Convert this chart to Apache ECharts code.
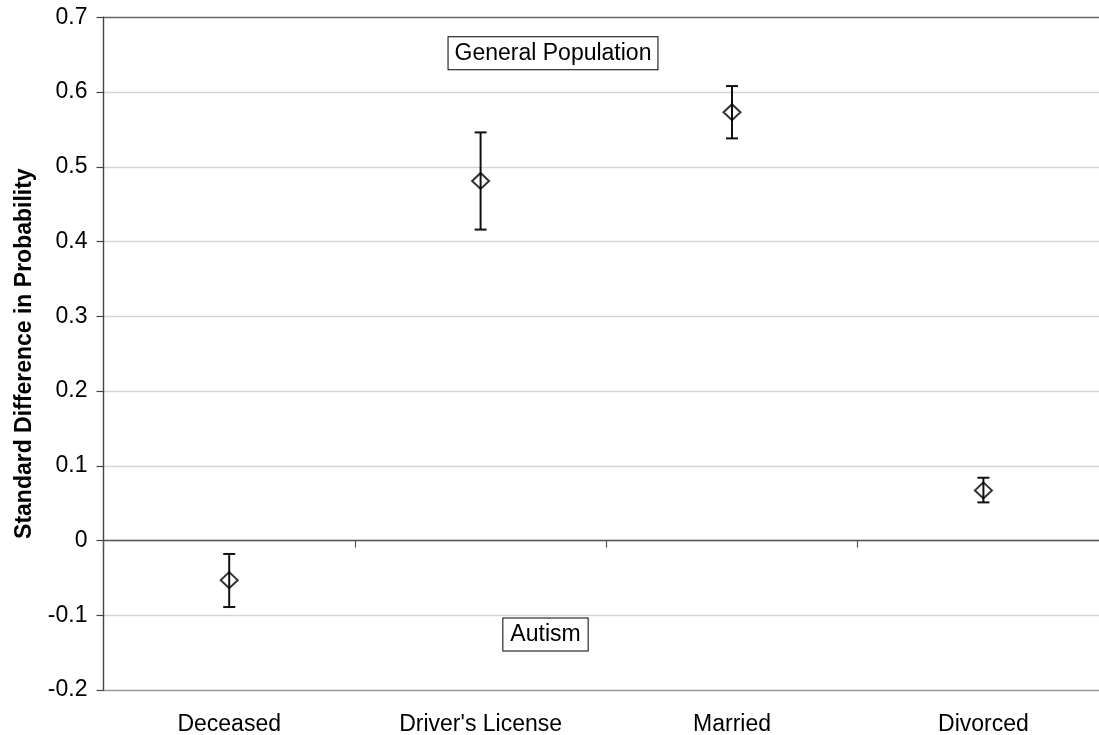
<!DOCTYPE html>
<html>
<head>
<meta charset="utf-8">
<script src="https://cdn.jsdelivr.net/npm/echarts@6/dist/echarts.min.js"></script>
<style>
html,body{margin:0;padding:0;background:#fff;overflow:hidden;}
#chart{width:1099px;height:735px;}
</style>
</head>
<body>
<div id="chart"></div>
<script>
var categories = ["Deceased", "Driver's License", "Married", "Divorced"];
var estimates = [-0.053, 0.481, 0.573, 0.067];
var lowerBounds = [-0.089, 0.416, 0.538, 0.051];
var upperBounds = [-0.018, 0.546, 0.608, 0.084];
var yTicks = [-0.2, -0.1, 0, 0.1, 0.2, 0.3, 0.4, 0.5, 0.6, 0.7];

var FONT = '"Liberation Sans", Arial, Helvetica, sans-serif';
var chart = echarts.init(document.getElementById('chart'), null, {renderer: 'canvas'});

var pointData = estimates.map(function (v, i) { return [i, v]; });
var barData = categories.map(function (c, i) { return [i, lowerBounds[i], upperBounds[i]]; });

// split line colours: bottom line, gridlines, top border
var splitColors = yTicks.map(function (t, i) {
  if (i === 0) return '#9a9a9a';
  if (i === yTicks.length - 1) return '#666666';
  return '#d6d6d6';
});

chart.setOption({
  backgroundColor: '#ffffff',
  animation: false,
  grid: {left: 103.5, top: 17.3, width: 1005.6, height: 672.7, containLabel: false, outerBoundsMode: 'none'},
  xAxis: [
    {
      type: 'category',
      data: categories,
      boundaryGap: true,
      position: 'bottom',
      axisLine: {show: false, onZero: false},
      axisTick: {show: false},
      axisLabel: {color: '#000', fontFamily: FONT, fontSize: 23, margin: 23, interval: 0},
      splitLine: {show: false}
    },
    {
      type: 'category',
      data: categories,
      boundaryGap: true,
      position: 'bottom',
      axisLine: {show: true, onZero: true, lineStyle: {color: '#555555', width: 1.3}},
      axisTick: {show: true, length: 7, lineStyle: {color: '#555555', width: 1.2}, interval: 0},
      axisLabel: {show: false},
      splitLine: {show: false}
    }
  ],
  yAxis: {
    type: 'value',
    min: -0.2,
    max: 0.7,
    interval: 0.1,
    name: 'Standard Difference in Probability',
    nameLocation: 'middle',
    nameGap: 67,
    nameRotate: 90,
    nameTextStyle: {color: '#000', fontFamily: FONT, fontSize: 23, fontWeight: 'bold'},
    axisLine: {show: true, lineStyle: {color: '#444444', width: 1.4}},
    axisTick: {show: true, length: 7, lineStyle: {color: '#444444', width: 1.2}},
    axisLabel: {
      color: '#000', fontFamily: FONT, fontSize: 23, margin: 16,
      formatter: function (v) { return String(Math.round(v * 10) / 10); }
    },
    splitLine: {show: true, lineStyle: {color: splitColors, width: 1.3}}
  },
  series: [
    {
      type: 'custom',
      xAxisIndex: 0,
      data: barData,
      encode: {x: 0, y: [1, 2]},
      z: 3,
      renderItem: function (params, api) {
        var x = api.value(0);
        var pLo = api.coord([x, api.value(1)]);
        var pHi = api.coord([x, api.value(2)]);
        var hw = 6;
        var st = {stroke: '#111', lineWidth: 2, fill: null};
        return {
          type: 'group',
          children: [
            {type: 'line', shape: {x1: pHi[0], y1: pHi[1], x2: pLo[0], y2: pLo[1]}, style: st},
            {type: 'line', shape: {x1: pHi[0] - hw, y1: pHi[1], x2: pHi[0] + hw, y2: pHi[1]}, style: st},
            {type: 'line', shape: {x1: pLo[0] - hw, y1: pLo[1], x2: pLo[0] + hw, y2: pLo[1]}, style: st}
          ]
        };
      }
    },
    {
      type: 'scatter',
      xAxisIndex: 0,
      data: pointData,
      symbol: 'diamond',
      symbolSize: [17, 16],
      z: 4,
      itemStyle: {color: 'rgba(255,255,255,0)', borderColor: '#000', borderWidth: 2}
    }
  ],
  graphic: [
    {
      type: 'text',
      x: 553, y: 53.3,
      z: 10,
      style: {
        text: 'General Population',
        font: '23px ' + FONT,
        fill: '#000',
        align: 'center',
        verticalAlign: 'middle',
        backgroundColor: '#fff',
        borderColor: '#000',
        borderWidth: 1,
        padding: [5, 6, 4, 6]
      }
    },
    {
      type: 'text',
      x: 545.5, y: 634.4,
      z: 10,
      style: {
        text: 'Autism',
        font: '23px ' + FONT,
        fill: '#000',
        align: 'center',
        verticalAlign: 'middle',
        backgroundColor: '#fff',
        borderColor: '#000',
        borderWidth: 1,
        padding: [5, 7, 4, 7]
      }
    }
  ]
});
</script>
</body>
</html>
